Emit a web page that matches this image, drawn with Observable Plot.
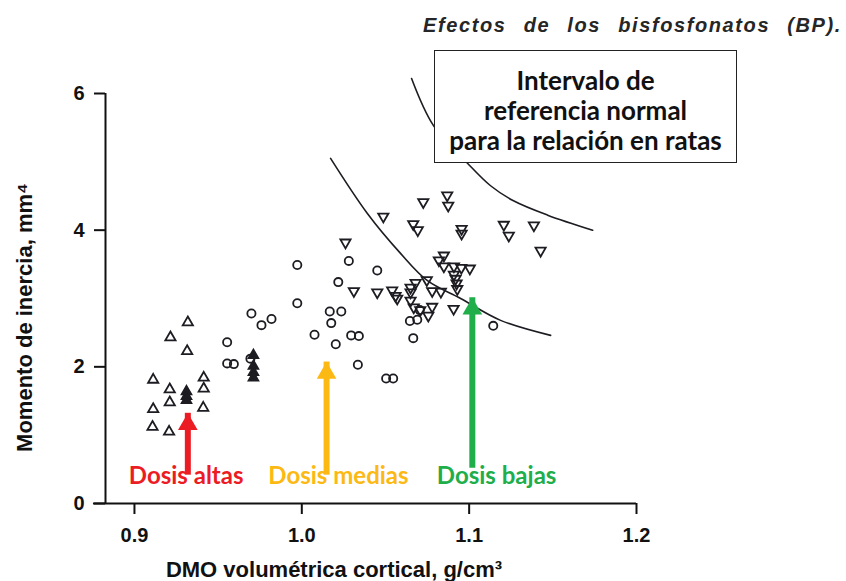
<!DOCTYPE html>
<html><head><meta charset="utf-8">
<script src="https://cdn.jsdelivr.net/npm/d3@7"></script>
<script src="https://cdn.jsdelivr.net/npm/@observablehq/plot@0.6"></script>
<style>
body{margin:0;background:#fff;}
#wrap{position:relative;width:846px;height:581px;overflow:hidden;background:#fff;}
#title{position:absolute;left:423px;top:13px;width:419px;display:flex;justify-content:space-between;font-family:"Liberation Sans",Arial,sans-serif;font-style:italic;font-weight:bold;font-size:20px;letter-spacing:1.6px;color:#262626;line-height:24px;}
#box{position:absolute;left:434px;top:50px;width:303px;height:113px;box-sizing:border-box;border:1.5px solid #222;background:#fff;text-align:center;font-family:Lato,sans-serif;font-weight:bold;font-size:26px;line-height:30px;padding-top:14px;color:#111;}
#chart g[aria-label="x-axis tick label"], #chart g[aria-label="y-axis tick label"]{font-weight:bold;font-size:20px;font-family:"Liberation Sans",Arial,sans-serif;}
</style></head>
<body><div id="wrap"><div id="chart"></div><div id="title"></div><div id="box"></div></div>
<script>
// ---- texts ----
const titleWords = ["Efectos", "de", "los", "bisfosfonatos", "(BP)."];
const boxLines = ["Intervalo de", "referencia normal", "para la relación en ratas"];
const xLabel = "DMO volumétrica cortical, g/cm³";
const yLabel = "Momento de inercia, mm⁴";

// ---- axes ----
const xTicks = [0.9, 1.0, 1.1, 1.2];
const yTicks = [0, 2, 4, 6];

// ---- high dose (open triangles) ----
const highX = [0.9319,0.9215,0.9315,0.9112,0.9211,0.9414,0.9414,0.9211,0.9112,0.9411,0.9108,0.9207];
const highY = [2.65,2.43,2.23,1.81,1.67,1.84,1.68,1.48,1.38,1.40,1.12,1.05];
// overlapping (filled) triangles
const stackX = [0.9311,0.9311,0.9311,0.9711,0.9711,0.9711,0.9711];
const stackY = [1.64,1.57,1.51,2.17,2.01,1.92,1.84];

// ---- medium dose (open circles) ----
const mediumX = [0.9554,0.9554,0.9594,0.9693,0.9699,0.9759,0.9819,0.9973,0.9973,1.0281,1.0451,1.0218,1.0167,1.0236,1.0176,1.0076,1.0295,1.0341,1.0203,1.0335,1.0504,1.0546,1.0646,1.0690,1.0705,1.0666,1.1144];
const mediumY = [2.36,2.05,2.04,2.12,2.78,2.61,2.70,2.93,3.49,3.55,3.41,3.24,2.81,2.81,2.64,2.47,2.46,2.45,2.33,2.03,1.83,1.83,2.67,2.69,2.83,2.42,2.60];

// ---- low dose (inverted triangles) ----
const lowX = [1.0261,1.0311,1.0451,1.0540,1.0560,1.0869,1.0875,1.0726,1.0487,1.0666,1.0693,1.0955,1.0955,1.1207,1.1237,1.1387,1.1427,1.0849,1.0819,1.0849,1.0909,1.0953,1.1004,1.0909,1.0919,1.0925,1.0929,1.0747,1.0680,1.0650,1.0650,1.0779,1.0831,1.0570,1.0650,1.0669,1.0779,1.0756,1.0907,1.0708];
const lowY = [3.82,3.11,3.09,3.12,3.04,4.51,4.36,4.41,4.20,4.09,4.00,4.02,3.95,4.08,3.92,4.07,3.70,3.63,3.56,3.47,3.47,3.45,3.44,3.35,3.29,3.22,3.14,3.27,3.23,3.16,3.09,3.11,3.10,3.00,2.97,2.87,2.88,2.75,2.85,2.83];

// ---- normal reference interval curves ----
const upperX = [1.0656,1.0787,1.0990,1.1128,1.1265,1.1469,1.1738];
const upperY = [6.22,5.53,4.98,4.65,4.43,4.22,4.00];
const lowerX = [1.0172,1.0393,1.0590,1.0751,1.0949,1.1188,1.1487];
const lowerY = [5.05,4.24,3.66,3.26,3.00,2.68,2.46];

// ---- dose annotations ----
const doseNames = ["Dosis altas", "Dosis medias", "Dosis bajas"];
const arrowX = [0.9319, 1.0148, 1.1019];
const arrowTip = [1.32, 2.07, 3.01];
const arrowBase = [0.59, 0.59, 0.69];
const labelX = [0.9309, 1.0219, 1.1164];
const labelY = [0.40, 0.40, 0.40];
const doseColors = ["#ec1c24", "#fdb913", "#20ae4b"];

const yAxisAt = 0.8827;   // x value of vertical axis line
const xAxisFrom = 0.8755; // x axis line starts a bit left of y axis

const zip = (xs, ys) => xs.map((x, i) => ({x, y: ys[i]}));
const high = zip(highX, highY), stack = zip(stackX, stackY), medium = zip(mediumX, mediumY), low = zip(lowX, lowY);
const upper = zip(upperX, upperY), lower = zip(lowerX, lowerY);
const doses = doseNames.map((name, i) => ({name, x: arrowX[i], tip: arrowTip[i], base: arrowBase[i], lx: labelX[i], ly: labelY[i], color: doseColors[i]}));

const ink = "#1c1c22";
const chart = Plot.plot({
  width: 846, height: 581,
  marginLeft: 105, marginRight: 210, marginTop: 93, marginBottom: 78,
  x: {domain: [yAxisAt, 1.2]},
  y: {domain: [0, 6]},
  color: {type: "identity"},
  style: {fontFamily: "'Liberation Sans', Arial, sans-serif", background: "white", color: "#111"},
  marks: [
    Plot.ruleY([{y: 0, x1: xAxisFrom, x2: 1.2}], {y: "y", x1: "x1", x2: "x2", stroke: "#111", strokeWidth: 2}),
    Plot.ruleX([{x: yAxisAt, y1: 0, y2: 6}], {x: "x", y1: "y1", y2: "y2", stroke: "#111", strokeWidth: 2}),
    Plot.axisX({ticks: xTicks, tickSize: 11, tickPadding: 13, tickFormat: d3.format(".1f"), fontSize: 20, fontWeight: "bold", strokeWidth: 2, color: "#111", label: null}),
    Plot.axisY({ticks: yTicks, tickSize: 11, tickPadding: 10, tickFormat: d3.format("d"), fontSize: 20, fontWeight: "bold", strokeWidth: 2, color: "#111", label: null}),
    Plot.text([yLabel], {frameAnchor: "left", textAnchor: "middle", rotate: -90, dx: -81, dy: 19, fontSize: 22, fontWeight: "bold", fill: "#111"}),
    Plot.text([xLabel], {frameAnchor: "bottom", textAnchor: "middle", dx: -37, dy: 73, fontSize: 22, fontWeight: "bold", fill: "#111"}),
    Plot.line(upper, {x: "x", y: "y", curve: "catmull-rom", stroke: ink, strokeWidth: 1.6}),
    Plot.line(lower, {x: "x", y: "y", curve: "catmull-rom", stroke: ink, strokeWidth: 1.6}),
    Plot.dot(high, {x: "x", y: "y", symbol: "triangle", r: 3.8, stroke: ink, strokeWidth: 1.8, fill: "white"}),
    Plot.dot(stack, {x: "x", y: "y", symbol: "triangle", r: 3.8, stroke: ink, strokeWidth: 1.5, fill: ink}),
    Plot.dot(medium, {x: "x", y: "y", r: 4.1, stroke: ink, strokeWidth: 1.8, fill: "none"}),
    Plot.dot(low, {x: "x", y: "y", symbol: "triangle", rotate: 180, r: 3.8, stroke: ink, strokeWidth: 1.8, fill: "none"}),
    Plot.ruleX(doses, {x: "x", y1: "base", y2: "tip", stroke: "color", strokeWidth: 6, insetTop: 12}),
    Plot.dot(doses, {x: "x", y: "tip", symbol: "triangle", r: 7.3, fill: "color", dy: 11}),
    Plot.text(doses, {x: "lx", y: "ly", text: "name", fill: "color", fontSize: 24, fontWeight: "bold", fontFamily: "Lato, sans-serif"})
  ]
});
document.getElementById("chart").append(chart);

const t = document.getElementById("title");
titleWords.forEach(w => { const s = document.createElement("span"); s.textContent = w; t.append(s); });
const b = document.getElementById("box");
boxLines.forEach(l => { const d = document.createElement("div"); d.textContent = l; b.append(d); });
</script>
</body></html>
